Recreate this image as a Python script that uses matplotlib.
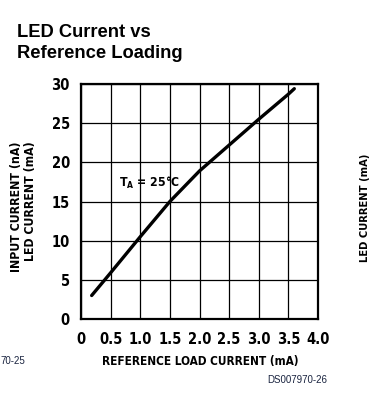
import matplotlib
matplotlib.use('Agg')
import matplotlib.pyplot as plt

# Curve
ref_load = [0.18, 0.39, 0.5, 1.0, 1.5, 2.0, 2.5, 3.0, 3.5, 3.6]
led_current = [3.0, 4.9, 5.9, 10.5, 15.0, 18.9, 22.2, 25.5, 28.7, 29.4]

x_ticks = [0, 0.5, 1.0, 1.5, 2.0, 2.5, 3.0, 3.5, 4.0]
x_labels = ['0', '0.5', '1.0', '1.5', '2.0', '2.5', '3.0', '3.5', '4.0']
y_ticks = [0, 5, 10, 15, 20, 25, 30]

plt.rcParams['font.family'] = ['Liberation Sans', 'DejaVu Sans']
narrow = dict(family='DejaVu Sans', stretch='condensed', fontweight='bold')

fig = plt.figure(figsize=(3.72, 4.0), dpi=100)
ax = fig.add_axes([81 / 372, 81 / 400, 237 / 372, 235 / 400])

ax.plot(ref_load, led_current, color='black', lw=2.4, solid_capstyle='round')

ax.set_xlim(0, 4.0)
ax.set_ylim(0, 30)
ax.set_xticks(x_ticks)
ax.set_xticklabels(x_labels)
ax.set_yticks(y_ticks)
ax.grid(True, color='black', lw=0.9)
ax.tick_params(length=0, pad=9)
ax.tick_params(axis='y', pad=8)
for lab in ax.get_xticklabels() + ax.get_yticklabels():
    lab.set_family('DejaVu Sans')
    lab.set_stretch('condensed')
    lab.set_fontweight('bold')
    lab.set_fontsize(10.5)
for s in ax.spines.values():
    s.set_linewidth(1.6)

ax.text(0.64, 17.4, r'T$_\mathregular{A}$ = 25°C', fontsize=8.8, va='center', **narrow)

# Title
fig.text(17 / 372, 1 - 24 / 400, 'LED Current vs\nReference Loading', fontsize=13.2,
         fontweight='bold', va='top', ha='left', linespacing=1.3)

# Axis labels
fig.text(200 / 372, 1 - 362 / 400, 'REFERENCE LOAD CURRENT (mA)', fontsize=8.5,
         ha='center', va='center', **narrow)
fig.text(17 / 372, 1 - 141 / 400, 'INPUT CURRENT (nA)', fontsize=8.8, rotation=90,
         ha='center', va='top', **narrow)
fig.text(30.5 / 372, 1 - 141 / 400, 'LED CURRENT (mA)', fontsize=8.8, rotation=90,
         ha='center', va='top', **narrow)
fig.text(365 / 372, 1 - 208 / 400, 'LED CURRENT (mA)', fontsize=8, rotation=90,
         ha='center', va='center', **narrow)

# Figure codes
fig.text(0, 1 - 361 / 400, '70-25', fontsize=7, color='#1a2440', ha='left', va='center')
fig.text(297 / 372, 1 - 380 / 400, 'DS007970-26', fontsize=7, color='#1a2440',
         ha='center', va='center')

fig.savefig('out.png', dpi=100)
